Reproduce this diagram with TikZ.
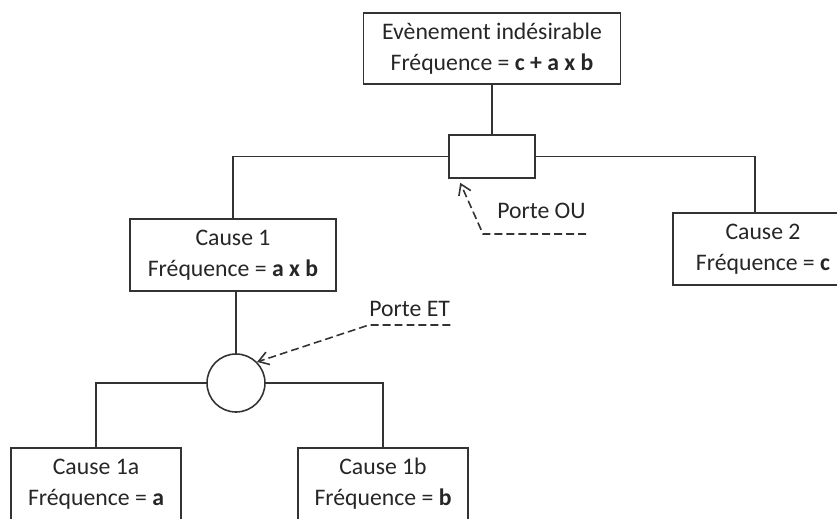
\documentclass[tikz,border=0pt]{standalone}
\usepackage{fontspec}
\setmainfont{Carlito}
\usetikzlibrary{arrows.meta, positioning}

\begin{document}
\begin{tikzpicture}[
  font=\fontsize{13.5}{17.5}\selectfont,
  box/.style={draw=black!80, line width=0.9pt, align=center, minimum height=1.44cm, text=black!85},
  gateou/.style={draw=black!80, line width=0.9pt, rectangle, minimum width=1.72cm, minimum height=0.86cm},
  gateet/.style={draw=black!80, line width=0.9pt, circle, minimum size=1.16cm},
  lbl/.style={inner sep=0pt, text=black!85},
  link/.style={draw=black!80, line width=0.9pt},
  pointer/.style={draw=black!80, line width=0.9pt, dash pattern=on 4.5pt off 2.3pt, -{Straight Barb[length=2mm, width=2.6mm]}}
]
\useasboundingbox (0,0) rectangle (16.74,10.36);
\clip (0,0) rectangle (16.74,10.36);

\node[box, minimum width=5.14cm, minimum height=1.42cm] (top) at (9.84,9.39) {Evènement indésirable\\Fréquence = \textbf{c + a x b}};
\node[gateou] (ou) at (9.84,7.23) {};
\node[box, minimum width=4.12cm] (c1) at (4.66,5.26) {Cause 1\\Fréquence = \textbf{a x b}};
\node[box, minimum width=3.60cm] (c2) at (15.26,5.38) {Cause 2\\Fréquence = \textbf{c}};
\node[gateet] (et) at (4.72,2.70) {};
\node[box, minimum width=3.40cm] (c1a) at (1.92,0.68) {Cause 1a\\Fréquence = \textbf{a}};
\node[box, minimum width=3.40cm] (c1b) at (7.66,0.68) {Cause 1b\\Fréquence = \textbf{b}};

\draw[link] (top) -- (ou);
\draw[link] (ou.west) -| (c1.north);
\draw[link] (ou.east) -| ([xshift=-0.16cm]c2.north);
\draw[link] (et.north |- c1.south) -- (et);
\draw[link] (et.west) -| (c1a.north);
\draw[link] (et.east) -| (c1b.north);

\node[lbl, anchor=base west] (pet) at (7.38,4.02) {Porte ET};
\draw[pointer] ([yshift=-0.16cm]pet.base east) -- ([yshift=-0.16cm]pet.base west) -- (et.45);

\node[lbl, anchor=base east] (pou) at (11.72,5.98) {Porte OU};
\coordinate (oubend) at (9.66,5.68);
\draw[pointer] ([yshift=-0.30cm]pou.base east) -- (oubend) -- ([xshift=0.24cm, yshift=-0.08cm]ou.south west);
\end{tikzpicture}
\end{document}
